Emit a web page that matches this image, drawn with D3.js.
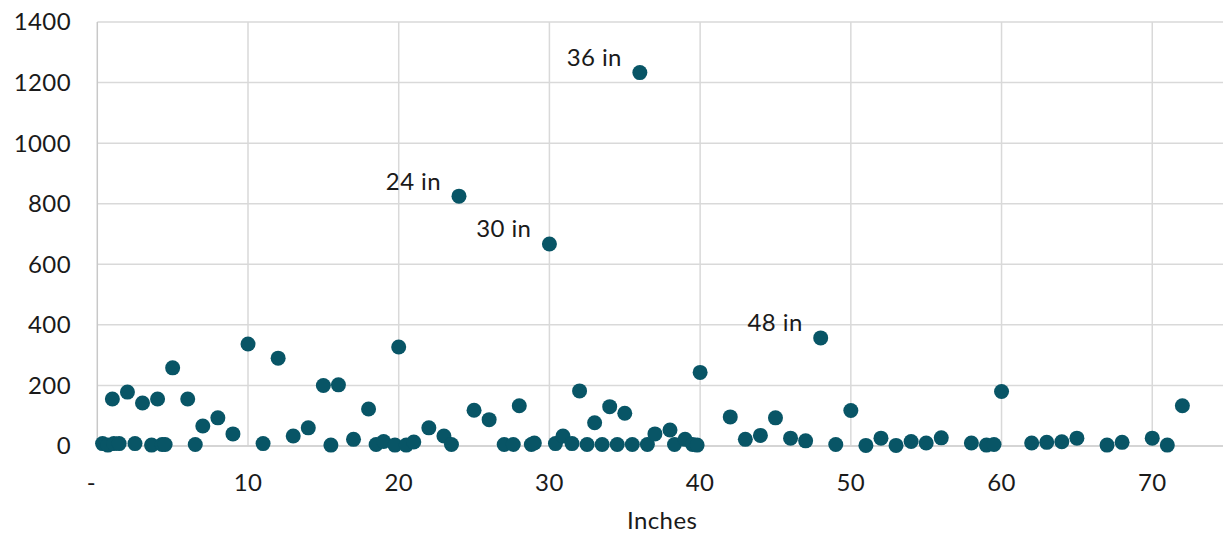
<!DOCTYPE html>
<html>
<head>
<meta charset="utf-8">
<script src="https://cdn.jsdelivr.net/npm/d3@7"></script>
<style>
  html, body { margin: 0; padding: 0; background: #ffffff; }
  svg { display: block; }
  text { font-family: "Lato", "Noto Sans", sans-serif; fill: #1a1a1a; letter-spacing: 0.4px; }
</style>
</head>
<body>
<svg id="chart" width="1223" height="534"></svg>
<script>
// ---- data ----
const inches = [
  0.35, 0.7, 1, 1.1, 1.45, 2, 2.5, 3, 3.6, 4, 4.3, 4.5, 5, 6, 6.5, 7, 8, 9,
  10, 11, 12, 13, 14, 15, 15.5, 16, 17, 18, 18.5, 19, 19.75, 20, 20.5, 21, 22, 23, 23.5,
  24, 25, 26, 27, 27.6, 28, 28.8, 29, 30, 30.4, 30.9, 31.5, 32, 32.5, 33, 33.5, 34, 34.5,
  35, 35.5, 36, 36.5, 37, 38, 38.3, 39, 39.5, 39.8, 40,
  42, 43, 44, 45, 46, 47, 48, 49, 50, 51, 52, 53, 54, 55, 56,
  58, 59, 59.5, 60, 62, 63, 64, 65, 67, 68, 70, 71, 72
];
const counts = [
  8, 3, 155, 8, 8, 178, 8, 142, 3, 155, 5, 5, 258, 155, 5, 66, 93, 40,
  337, 8, 290, 33, 60, 200, 3, 202, 22, 122, 5, 15, 3, 327, 3, 13, 60, 33, 5,
  825, 118, 87, 5, 5, 133, 5, 10, 667, 8, 33, 8, 182, 5, 77, 5, 130, 5,
  108, 5, 1233, 5, 40, 53, 5, 22, 5, 3, 243,
  96, 22, 35, 93, 26, 17, 357, 5, 117, 2, 26, 2, 15, 10, 27,
  10, 3, 5, 180, 10, 12, 14, 26, 3, 12, 26, 3, 133
];
const labelledInches = [24, 30, 36, 48];
const yTicks = [0, 200, 400, 600, 800, 1000, 1200, 1400];
const xTicks = [0, 10, 20, 30, 40, 50, 60, 70];
const xTickLabels = ["-", "10", "20", "30", "40", "50", "60", "70"];
const xTitle = "Inches";

// ---- layout ----
const svg = d3.select("#chart");
const plotL = 97.3, plotR = 1227.6, plotT = 22, plotB = 446;
const x = d3.scaleLinear().domain([0, 75]).range([plotL, plotR]);
const y = d3.scaleLinear().domain([0, 1400]).range([plotB, plotT]);
const fs = 24;

// grid
svg.append("g").selectAll("line").data(yTicks).join("line")
  .attr("x1", plotL).attr("x2", 1223)
  .attr("y1", d => y(d)).attr("y2", d => y(d))
  .attr("stroke", "#d9d9d9").attr("stroke-width", 1.5);
svg.append("g").selectAll("line").data(xTicks.filter(d => d > 0)).join("line")
  .attr("x1", d => x(d)).attr("x2", d => x(d))
  .attr("y1", plotT).attr("y2", plotB)
  .attr("stroke", "#d9d9d9").attr("stroke-width", 1.5);
// axis lines
svg.append("line").attr("x1", plotL).attr("x2", plotL).attr("y1", plotT).attr("y2", plotB)
  .attr("stroke", "#c8c8c8").attr("stroke-width", 1.5);
svg.append("line").attr("x1", plotL).attr("x2", 1223).attr("y1", plotB).attr("y2", plotB)
  .attr("stroke", "#d0d0d0").attr("stroke-width", 1.5);

// y tick labels
svg.append("g").selectAll("text").data(yTicks).join("text")
  .attr("x", 71).attr("y", d => y(d))
  .attr("dy", "0.35em")
  .attr("text-anchor", "end")
  .attr("font-size", fs)
  .text(d => d);

// x tick labels
svg.append("g").selectAll("text").data(xTicks).join("text")
  .attr("x", (d, i) => i === 0 ? x(d) - 6 : x(d)).attr("y", 491)
  .attr("text-anchor", "middle")
  .attr("font-size", fs)
  .text((d, i) => xTickLabels[i]);

// x title
svg.append("text")
  .attr("x", (x(0) + 1223) / 2 + 2).attr("y", 529)
  .attr("text-anchor", "middle")
  .attr("font-size", fs)
  .text(xTitle);

// points
const pts = inches.map((d, i) => ({ x: d, y: counts[i] }));
svg.append("g").selectAll("circle").data(pts).join("circle")
  .attr("cx", d => x(d.x)).attr("cy", d => y(d.y))
  .attr("r", 7.5)
  .attr("fill", "#085566");

// labels
svg.append("g").selectAll("text").data(pts.filter(d => labelledInches.includes(d.x))).join("text")
  .attr("x", d => x(d.x) - 18).attr("y", d => y(d.y) - 15)
  .attr("dy", "0.35em")
  .attr("text-anchor", "end")
  .attr("font-size", fs)
  .text(d => d.x + " in");
</script>
</body>
</html>
